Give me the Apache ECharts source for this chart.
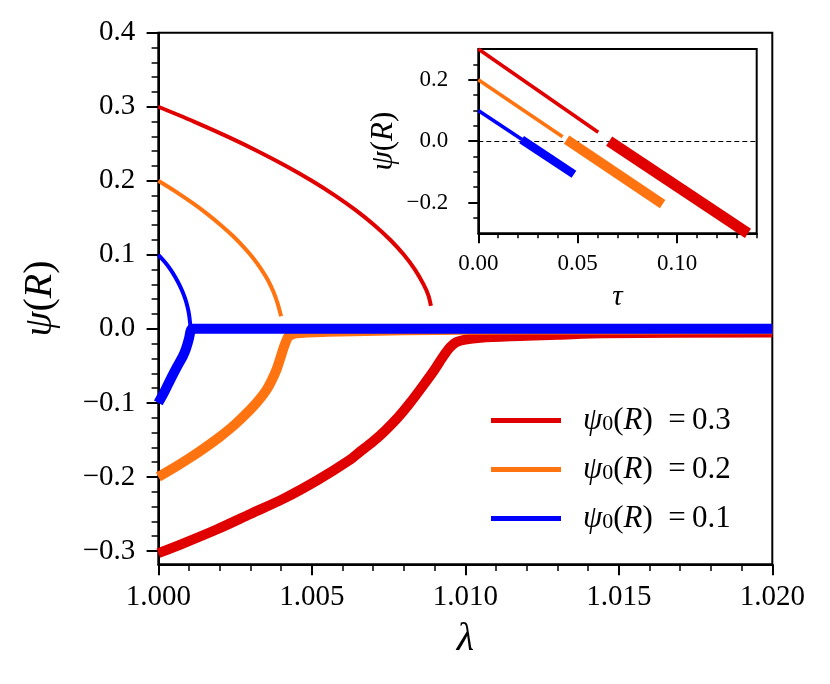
<!DOCTYPE html>
<html><head><meta charset="utf-8">
<script src="https://cdn.jsdelivr.net/npm/echarts@6/dist/echarts.min.js"></script>
<style>html,body{margin:0;padding:0;background:#fff}#c{width:830px;height:684px}</style>
</head><body><div id="c"></div><script>
// ---- data ----
const seriesNames = ['0.3', '0.2', '0.1'];
// main panel: [lambda, psi(R)]
const redUpper = [[1.00000,0.300],[1.00116,0.280],[1.00224,0.260],[1.00324,0.240],[1.00416,0.220],[1.00500,0.200],[1.00576,0.180],[1.00644,0.160],[1.00704,0.140],[1.00756,0.120],[1.00800,0.100],[1.00836,0.080],[1.00864,0.060],[1.00880,0.045],[1.00888,0.031]];
const redLower = [[1.0000,-0.303],[1.0008,-0.290],[1.0019,-0.271],[1.0030,-0.250],[1.0041,-0.229],[1.0052,-0.204],[1.0062,-0.178],[1.0066,-0.165],[1.0070,-0.152],[1.0074,-0.137],[1.0078,-0.120],[1.0082,-0.100],[1.0086,-0.078],[1.0090,-0.055],[1.0093,-0.036],[1.0095,-0.025],[1.0097,-0.018],[1.0100,-0.0145],[1.0105,-0.012],[1.0115,-0.010],[1.0130,-0.008],[1.0145,-0.006],[1.0200,-0.005]];
const orangeUpper = [[1.00000,0.200],[1.00058,0.185],[1.00111,0.170],[1.00160,0.155],[1.00204,0.140],[1.00244,0.125],[1.00279,0.110],[1.00310,0.095],[1.00336,0.080],[1.00358,0.065],[1.00375,0.050],[1.00388,0.035],[1.00400,0.017]];
const orangeLower = [[1.0000,-0.200],[1.0005,-0.188],[1.0010,-0.175],[1.0015,-0.161],[1.0020,-0.146],[1.0025,-0.129],[1.0030,-0.109],[1.0033,-0.095],[1.00353,-0.082],[1.0037,-0.069],[1.00386,-0.054],[1.00398,-0.039],[1.00407,-0.027],[1.00416,-0.017],[1.00425,-0.010],[1.0045,-0.006],[1.0055,-0.004],[1.0080,-0.002],[1.0120,-0.001],[1.0200,-0.0005]];
const blueUpper = [[1.00000,0.100],[1.00022,0.090],[1.00040,0.080],[1.00055,0.070],[1.00068,0.060],[1.00079,0.050],[1.00088,0.040],[1.00095,0.030],[1.00100,0.020],[1.00103,0.010],[1.00105,0.002]];
const blueLower = [[1.0000,-0.100],[1.0002,-0.085],[1.0004,-0.068],[1.0006,-0.052],[1.0008,-0.037],[1.0009,-0.027],[1.0010,-0.013],[1.00105,-0.003],[1.0011,0.000],[1.0014,0.000],[1.0200,0.000]];
// inset: [tau, psi(R)]
const insetRedThin = [[0.0,0.300],[0.0603,0.029]];
const insetRedThick = [[0.0658,0.000],[0.1356,-0.300]];
const insetOrangeThin = [[0.0,0.200],[0.0424,0.014]];
const insetOrangeThick = [[0.0444,0.005],[0.0927,-0.205]];
const insetBlueThin = [[0.0,0.100],[0.0220,0.005]];
const insetBlueThick = [[0.0218,0.005],[0.0481,-0.108]];
// ticks
const xTicksMain = [1.000,1.005,1.010,1.015,1.020];
const xMinorMain = [1.001,1.002,1.003,1.004,1.006,1.007,1.008,1.009,1.011,1.012,1.013,1.014,1.016,1.017,1.018,1.019];
const yTicksMain = [-0.3,-0.2,-0.1,0.0,0.1,0.2,0.3,0.4];
const yMinorMain = [-0.28,-0.26,-0.24,-0.22,-0.18,-0.16,-0.14,-0.12,-0.08,-0.06,-0.04,-0.02,0.02,0.04,0.06,0.08,0.12,0.14,0.16,0.18,0.22,0.24,0.26,0.28,0.32,0.34,0.36,0.38];
const xTicksInset = [0.00,0.05,0.10];
const xMinorInset = [0.01,0.02,0.03,0.04,0.06,0.07,0.08,0.09,0.11,0.12,0.13,0.14];
const yTicksInset = [-0.2,0.0,0.2];
const yMinorInset = [-0.25,-0.15,-0.10,-0.05,0.05,0.10,0.15,0.25];

// ---- styling ----
const FONT = 'Liberation Serif';
const RED = '#e00000', ORANGE = '#ff7410', BLUE = '#0000ff';
const fmtNum = (v, d) => (v < -1e-9 ? '\u2212' : '') + Math.abs(v).toFixed(d);

function majorAxis(dim, grid, min, max, ticks, dec, opts) {
  return Object.assign({
    type: 'value', gridIndex: grid, min: min, max: max,
    position: dim === 'x' ? 'bottom' : 'left',
    axisLine: { show: true, onZero: false, lineStyle: { color: '#000', width: 2 } },
    axisTick: { show: true, inside: false, customValues: ticks, length: opts.tickLen, lineStyle: { color: '#000', width: 2 } },
    axisLabel: { show: true, customValues: ticks, formatter: v => fmtNum(v, dec), margin: opts.margin,
      fontFamily: FONT, fontSize: opts.fontSize, color: '#000', showMinLabel: true, showMaxLabel: true },
    splitLine: { show: false }, minorTick: { show: false }, minorSplitLine: { show: false }
  }, opts.extra || {});
}
function minorAxis(dim, grid, min, max, ticks, len) {
  return {
    type: 'value', gridIndex: grid, min: min, max: max,
    position: dim === 'x' ? 'bottom' : 'left',
    axisLine: { show: false, onZero: false },
    axisTick: { show: true, inside: false, customValues: ticks, length: len, lineStyle: { color: '#000', width: 1.5 } },
    axisLabel: { show: false }, splitLine: { show: false }
  };
}
function line(name, data, color, width, xi, yi, z, smooth) {
  return { type: 'line', name: name, data: data, xAxisIndex: xi, yAxisIndex: yi,
    showSymbol: false, symbol: 'none', clip: true, z: z, animation: false,
    smooth: smooth ? 0.3 : false,
    itemStyle: { color: color },
    lineStyle: { color: color, width: width, cap: 'butt', join: 'round' } };
}

const richMath = {
  g: { fontFamily: FONT, fontStyle: 'italic', fontSize: 40, color: '#000', lineHeight: 44 },
  n: { fontFamily: FONT, fontSize: 40, color: '#000', lineHeight: 44 }
};
const richMathSmall = {
  g: { fontFamily: FONT, fontStyle: 'italic', fontSize: 31, color: '#000', lineHeight: 34 },
  n: { fontFamily: FONT, fontSize: 31, color: '#000', lineHeight: 34 }
};

const option = {
  animation: false,
  backgroundColor: '#fff',
  grid: [
    { left: 158.3, top: 32.7, right: 57.7, bottom: 119.7, show: true, borderColor: '#000', borderWidth: 2,
      backgroundColor: 'transparent', containLabel: false, outerBoundsMode: 'none' },
    { left: 478.3, top: 49, right: 73.3, bottom: 450.7, show: true, borderColor: '#000', borderWidth: 2,
      backgroundColor: '#fff', containLabel: false, outerBoundsMode: 'none', z: 5 }
  ],
  xAxis: [
    majorAxis('x', 0, 1.0, 1.02, xTicksMain, 3, { tickLen: 11, margin: 19, fontSize: 29, extra: {
      name: '\u03bb', nameLocation: 'middle', nameGap: 55,
      nameTextStyle: { fontFamily: FONT, fontStyle: 'italic', fontSize: 40, color: '#000' } } }),
    minorAxis('x', 0, 1.0, 1.02, xMinorMain, 6.7),
    majorAxis('x', 1, 0, 0.14, xTicksInset, 2, { tickLen: 10, margin: 19, fontSize: 23, extra: {
      name: '\u03c4', nameLocation: 'middle', nameGap: 50, z: 6,
      nameTextStyle: { fontFamily: FONT, fontStyle: 'italic', fontSize: 29, color: '#000' } } }),
    Object.assign(minorAxis('x', 1, 0, 0.14, xMinorInset, 5), { z: 6 })
  ],
  yAxis: [
    majorAxis('y', 0, -0.318, 0.4, yTicksMain, 1, { tickLen: 11.7, margin: 23, fontSize: 29, extra: {
      name: '{g|\u03c8}{n|(}{g|R}{n|)}', nameLocation: 'middle', nameGap: 96, nameRotate: 90,
      nameTextStyle: { rich: richMath } } }),
    minorAxis('y', 0, -0.318, 0.4, yMinorMain, 6.7),
    majorAxis('y', 1, -0.3, 0.3, yTicksInset, 1, { tickLen: 10, margin: 30, fontSize: 23, extra: {
      name: '{g|\u03c8}{n|(}{g|R}{n|)}', nameLocation: 'middle', nameGap: 77, nameRotate: 90, z: 6,
      nameTextStyle: { rich: richMathSmall } } }),
    Object.assign(minorAxis('y', 1, -0.3, 0.3, yMinorInset, 5), { z: 6 })
  ],
  legend: {
    data: seriesNames, orient: 'vertical', left: 486, top: 400, icon: 'rect',
    itemWidth: 70, itemHeight: 5, itemGap: 18, selectedMode: false,
    formatter: n => '{p|\u03c8}{s|0}{n|(}{i|R}{n|)\u2002=\u2009' + n + '}',
    textStyle: { rich: {
      p: { fontFamily: FONT, fontStyle: 'italic', fontSize: 31, color: '#000', lineHeight: 30, padding: [0, 0, 0, 17] },
      s: { fontFamily: FONT, fontSize: 22, color: '#000', lineHeight: 14, verticalAlign: 'bottom' },
      i: { fontFamily: FONT, fontStyle: 'italic', fontSize: 31, color: '#000', lineHeight: 30 },
      n: { fontFamily: FONT, fontSize: 31, color: '#000', lineHeight: 30 }
    } }
  },
  series: [
    line(seriesNames[0], redUpper, RED, 4, 0, 0, 2, true),
    line(seriesNames[0], redLower, RED, 10, 0, 0, 2, true),
    line(seriesNames[1], orangeUpper, ORANGE, 4, 0, 0, 3, true),
    line(seriesNames[1], orangeLower, ORANGE, 10, 0, 0, 3, true),
    line(seriesNames[2], blueUpper, BLUE, 4, 0, 0, 4, true),
    line(seriesNames[2], blueLower, BLUE, 10, 0, 0, 4, true),
    Object.assign(line('inset-zero', [], '#000', 1, 2, 2, 6, false), {
      markLine: { silent: true, symbol: ['none', 'none'], label: { show: false },
        lineStyle: { color: '#000', width: 1.2, type: [5, 3] }, data: [{ yAxis: 0 }] } }),
    line('inset-0.3a', insetRedThin, RED, 3.6, 2, 2, 7, false),
    line('inset-0.3b', insetRedThick, RED, 11, 2, 2, 7, false),
    line('inset-0.2a', insetOrangeThin, ORANGE, 3.6, 2, 2, 7, false),
    line('inset-0.2b', insetOrangeThick, ORANGE, 9.7, 2, 2, 7, false),
    line('inset-0.1a', insetBlueThin, BLUE, 3.6, 2, 2, 7, false),
    line('inset-0.1b', insetBlueThick, BLUE, 8.5, 2, 2, 7, false)
  ]
};
const chart = echarts.init(document.getElementById('c'), null, { renderer: 'canvas' });
chart.setOption(option);
</script></body></html>
